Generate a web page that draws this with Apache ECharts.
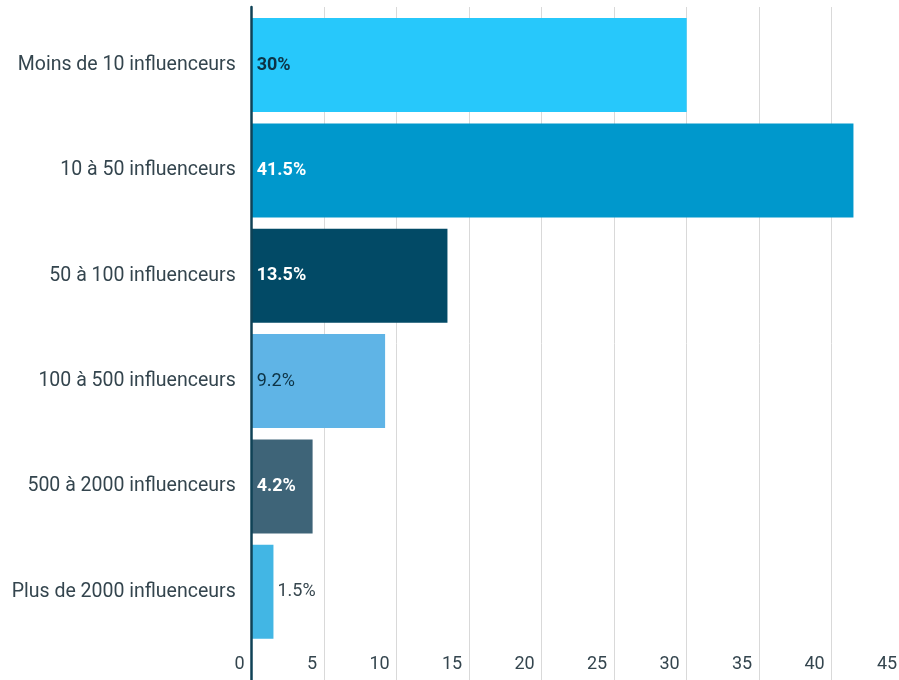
<!DOCTYPE html>
<html>
<head>
<meta charset="utf-8">
<style>
  html, body { margin: 0; padding: 0; background: #ffffff; overflow: hidden; }
  /* drawing surface runs slightly past the window so the 45 gridline sits just off the right edge */
  #chart { width: 920px; height: 680px; }
</style>
<script src="https://cdn.jsdelivr.net/npm/echarts@6/dist/echarts.min.js"></script>
</head>
<body>
<div id="chart"></div>
<script>
// Répartition du nombre d'influenceurs (en %)
const categories = [
  'Moins de 10 influenceurs',
  '10 à 50 influenceurs',
  '50 à 100 influenceurs',
  '100 à 500 influenceurs',
  '500 à 2000 influenceurs',
  'Plus de 2000 influenceurs'
];
const values = [30, 41.5, 13.5, 9.2, 4.2, 1.5];
const barColors = ['#27c8fb', '#0098cc', '#024a66', '#5fb4e6', '#3e6478', '#42b6e4'];
const labelColors = ['#0d3345', '#ffffff', '#ffffff', '#0d3345', '#ffffff', '#37474f'];
const labelBold = [true, true, true, false, true, false];
const labelOutside = [false, false, false, false, false, true];
const tickValues = [0, 5, 10, 15, 20, 25, 30, 35, 40, 45];

const axisMin = tickValues[0];
const axisMax = tickValues[tickValues.length - 1];
const axisStep = tickValues[1] - tickValues[0];

const chart = echarts.init(document.getElementById('chart'), null, { renderer: 'canvas' });

const barData = values.map((v, i) => ({
  value: v,
  itemStyle: { color: barColors[i] },
  label: {
    position: labelOutside[i] ? 'right' : 'insideLeft',
    distance: labelOutside[i] ? 4 : 5,
    color: labelColors[i],
    fontWeight: labelBold[i] ? 'bold' : 'normal'
  }
}));

chart.setOption({
  animation: false,
  textStyle: { fontFamily: 'Roboto' },
  grid: [
    // bars and labels
    { left: 251.7, width: 652.5, top: 12.4, height: 632 },
    // background gridlines and the vertical axis line
    { left: 251.7, width: 652.5, top: 7, height: 690 }
  ],
  xAxis: [
    {
      gridIndex: 0,
      type: 'value',
      min: axisMin, max: axisMax, interval: axisStep,
      axisLine: { show: false },
      axisTick: { show: false },
      splitLine: { show: false },
      axisLabel: {
        color: '#34454e',
        fontSize: 18,
        margin: 11,
        align: 'right',
        padding: [0, 7, 0, 0],
        showMaxLabel: true
      }
    },
    {
      gridIndex: 1,
      type: 'value',
      min: axisMin, max: axisMax, interval: axisStep,
      axisLine: { show: false },
      axisTick: { show: false },
      axisLabel: { show: false },
      splitLine: { show: true, lineStyle: { color: '#d9d9d9', width: 1 } }
    }
  ],
  yAxis: [
    {
      gridIndex: 0,
      type: 'category',
      inverse: true,
      data: categories,
      axisLine: { show: false },
      axisTick: { show: false },
      axisLabel: { color: '#34454e', fontSize: 19.5, margin: 16 }
    },
    {
      gridIndex: 1,
      type: 'value',
      min: 0, max: 1,
      z: 5,
      axisLine: { show: true, lineStyle: { color: '#0f4256', width: 2.5 } },
      axisTick: { show: false },
      axisLabel: { show: false },
      splitLine: { show: false }
    }
  ],
  series: [
    {
      type: 'bar',
      xAxisIndex: 0,
      yAxisIndex: 0,
      barWidth: 94,
      data: barData,
      label: {
        show: true,
        fontSize: 18,
        fontFamily: 'Roboto',
        formatter: p => p.value + '%'
      }
    }
  ]
});
</script>
</body>
</html>
